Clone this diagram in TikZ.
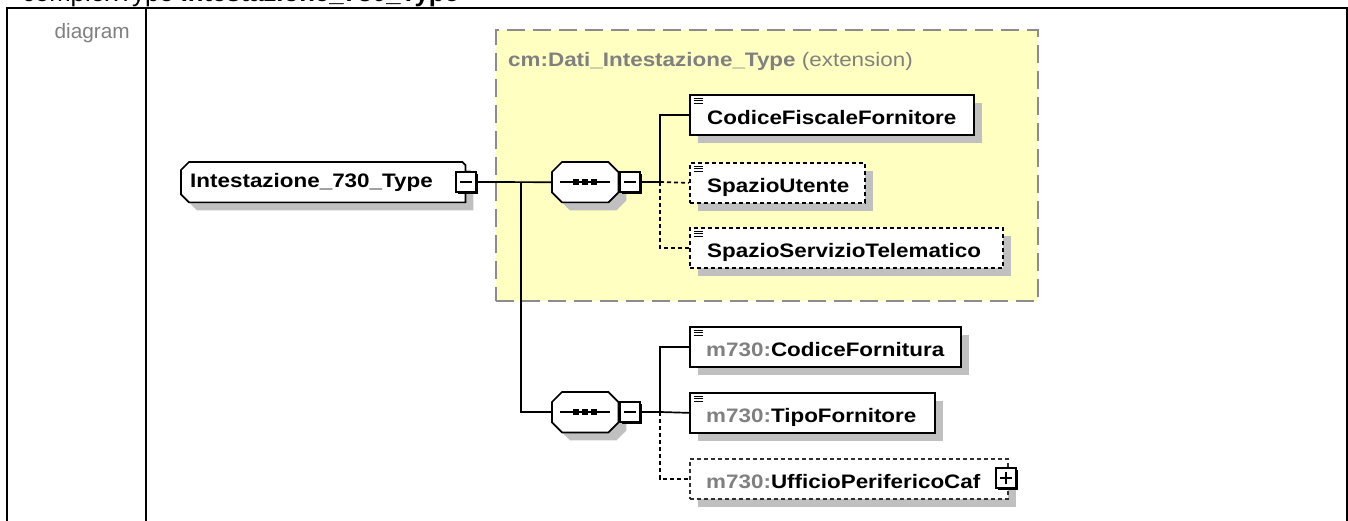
\documentclass[tikz,border=0pt]{standalone}
\usepackage{fontspec}
\setmainfont{Liberation Sans}
\newfontfamily\dfont{Liberation Sans}[FakeStretch=1.15]
\usetikzlibrary{calc,shadows}
\definecolor{shd}{HTML}{C0C0C0}
\definecolor{ylw}{HTML}{FFFFC2}
\definecolor{txtgray}{HTML}{808080}
\definecolor{extgray}{HTML}{8C8C8C}
\definecolor{optgray}{HTML}{303030}
\tikzset{
  conn/.style={line width=1.7pt, black},
  dconn/.style={line width=1.7pt, black, dash pattern=on 4pt off 3pt},
  elem/.style={draw, fill=white, line width=1.7pt, inner sep=0, minimum height=40pt,
    anchor=north west,
    drop shadow={shadow xshift=8pt, shadow yshift=-8pt, fill=shd, opacity=1}},
  simple/.style={path picture={\foreach \d in {3.5,6,8.5}
      \draw[line width=1.1pt, solid] ([xshift=4pt,yshift=-\d pt]path picture bounding box.north west) -- ++(9pt,0pt);}},
  optional/.style={dash pattern=on 4pt off 3pt},
  etext/.style={anchor=base west, inner sep=0, font=\fontsize{19.5}{22}\dfont\bfseries},
  ghost/.style={inner sep=0, draw=none, anchor=north west},
  btn/.style={draw, fill=white, line width=1.5pt, minimum size=20pt, inner sep=0,
    drop shadow={shadow xshift=2pt, shadow yshift=-2pt, fill=black, opacity=1}},
  minusbtn/.style={btn, path picture={\draw[line width=1.4pt]
      ([xshift=4pt]path picture bounding box.west) -- ([xshift=-4pt]path picture bounding box.east);}},
  plusbtn/.style={btn, path picture={\draw[line width=1.4pt]
      ([xshift=4pt]path picture bounding box.west) -- ([xshift=-4pt]path picture bounding box.east)
      ([yshift=-4pt]path picture bounding box.north) -- ([yshift=4pt]path picture bounding box.south);}},
}
\newcommand\rootshape[1]{\path[#1] ([xshift=8pt]root.north west) -- ([xshift=-3pt]root.north east)
  -- ([yshift=-3pt]root.north east) -- (root.south east) -- ([xshift=8pt]root.south west)
  -- ([yshift=8pt]root.south west) -- ([yshift=-8pt]root.north west) -- cycle;}
\newcommand\seqshape[2]{\path[#2] ([xshift=10pt]#1.north west) -- ([xshift=-10pt]#1.north east)
  -- ([yshift=-10pt]#1.north east) -- ([yshift=10pt]#1.south east) -- ([xshift=-10pt]#1.south east)
  -- ([xshift=10pt]#1.south west) -- ([yshift=10pt]#1.south west) -- ([yshift=-10pt]#1.north west) -- cycle;}
\newcommand\seqicon[1]{%
  \draw[line width=1.7pt] ([xshift=8pt]#1.west) -- ([xshift=-8pt]#1.east);
  \foreach \dx in {-9,0,9} \fill ([xshift=\dx pt]#1.center) +(-3pt,-3pt) rectangle +(3pt,3pt);}
\begin{document}
\begin{tikzpicture}[x=1pt,y=-1pt]
\useasboundingbox (0,0) rectangle (1348,521);
% header and frame
\node[anchor=base west, inner sep=0, font=\fontsize{25.7}{30}\selectfont] (hdr) at (22,2)
  {complexType \textbf{Intestazione\_730\_Type}};
\node[anchor=base east, inner sep=0, text=txtgray, font=\fontsize{20.8}{24}\selectfont] (lbl) at (130,39) {diagram};
\draw[line width=2.2pt] (7,521) -- (7,8) -- (1347,8) -- (1347,521);
\draw[line width=2.2pt] (146,8) -- (146,521);
% extension box
\node[ghost, draw=extgray, line width=2pt, dash pattern=on 18pt off 8pt, fill=ylw,
  minimum width=542pt, minimum height=271pt] (ext) at (495,29) {};
\node[anchor=base west, inner sep=0, text=txtgray, font=\fontsize{19.5}{22}\dfont] (extt) at (508,67)
  {\textbf{cm:Dati\_Intestazione\_Type} (extension)};
% root element
\node[ghost, minimum width=284pt, minimum height=40pt] (root) at (181,162) {};
\begin{scope}[transform canvas={xshift=8pt,yshift=-8pt}]\rootshape{fill=shd}\end{scope}
\rootshape{draw, fill=white, line width=1.7pt}
\node[etext] (roott) at (190,188) {Intestazione\_730\_Type};
\node[minusbtn] (rootm) at (466,182) {};
% sequences
\node[ghost, minimum width=66pt, minimum height=40pt] (seq1) at (552,162) {};
\node[ghost, minimum width=66pt, minimum height=40pt] (seq2) at (552,392) {};
\foreach \s in {seq1,seq2}{
  \begin{scope}[transform canvas={xshift=8pt,yshift=-8pt}]\seqshape{\s}{fill=shd}\end{scope}
  \seqshape{\s}{draw, fill=white, line width=1.7pt}
  \seqicon{\s}
}
\node[minusbtn] (seq1m) at (630,182) {};
\node[minusbtn] (seq2m) at (630,412) {};
% elements upper
\node[elem, simple, minimum width=284pt] (cff) at (689,94) {};
\node[etext] (cfft) at ($(cff.south west)+(18,-11)$) {CodiceFiscaleFornitore};
\node[elem, simple, optional, minimum width=175pt] (su) at (689,162) {};
\node[etext] (sut) at ($(su.south west)+(18,-11)$) {SpazioUtente};
\node[elem, simple, optional, minimum width=313pt] (sst) at (689,227) {};
\node[etext] (sstt) at ($(sst.south west)+(18,-11)$) {SpazioServizioTelematico};
% elements lower
\node[elem, simple, minimum width=271pt] (cf) at (689,326) {};
\node[etext] (cft) at ($(cf.south west)+(17,-11)$) {\textcolor{txtgray}{m730:}CodiceFornitura};
\node[elem, simple, minimum width=245pt] (tf) at (689,392) {};
\node[etext] (tft) at ($(tf.south west)+(17,-11)$) {\textcolor{txtgray}{m730:}TipoFornitore};
\node[elem, optional, draw=optgray, minimum width=318pt] (uf) at (689,458) {};
\node[etext] (uft) at ($(uf.south west)+(17,-11)$) {\textcolor{txtgray}{m730:}UfficioPerifericoCaf};
\node[plusbtn] (ufp) at (1006,478) {};
% connectors
\coordinate (j1) at (521,182);
\coordinate (b1) at (660,182);
\coordinate (b2) at (660,412);
\draw[conn] (rootm.east) -- (seq1.west);
\draw[conn] (j1) |- (seq2.west);
\draw[conn] (seq1m.east) -- (b1);
\draw[conn] (b1) |- (cff.west);
\draw[dconn] (b1) -- (su.west);
\draw[dconn] (b1) |- (sst.west);
\draw[conn] (seq2m.east) -- (b2);
\draw[conn] (b2) |- (cf.west);
\draw[conn] (b2) -- (tf.west);
\draw[dconn] (b2) |- (uf.west);
\end{tikzpicture}
\end{document}
